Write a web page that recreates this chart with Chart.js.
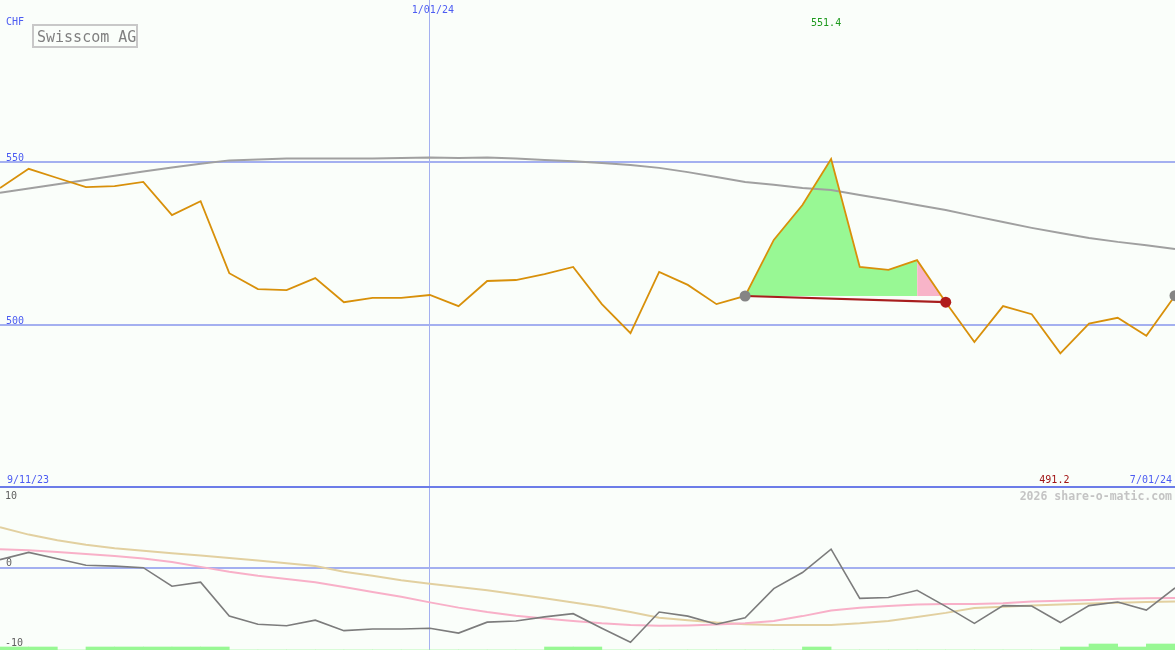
<!DOCTYPE html>
<html>
<head>
<meta charset="utf-8">
<title>Swisscom AG</title>
<script src="https://cdn.jsdelivr.net/npm/chart.js@4.4.1/dist/chart.umd.min.js"></script>
<style>
    html, body { margin: 0; padding: 0; background: #fafefa; }
    canvas { display: block; }
</style>
</head>
<body>
<canvas id="chart" width="1175" height="650"></canvas>
<script>
const dates = [
    "9/18/23", "9/25/23", "10/02/23", "10/09/23", "10/16/23", "10/23/23", "10/30/23",
    "11/06/23", "11/13/23", "11/20/23", "11/27/23", "12/04/23", "12/11/23", "12/18/23",
    "12/25/23", "1/01/24", "1/08/24", "1/15/24", "1/22/24", "1/29/24", "2/05/24",
    "2/12/24", "2/19/24", "2/26/24", "3/04/24", "3/11/24", "3/18/24", "3/25/24",
    "4/01/24", "4/08/24", "4/15/24", "4/22/24", "4/29/24", "5/06/24", "5/13/24",
    "5/20/24", "5/27/24", "6/03/24", "6/10/24", "6/17/24", "6/24/24", "7/01/24"
];

// weekly close, CHF
const price = [
    541.9, 547.8, 545.0, 542.2, 542.5, 543.8, 533.6, 537.9, 515.8, 510.9,
    510.6, 514.3, 506.9, 508.2, 508.2, 509.1, 505.7, 513.4, 513.7, 515.5,
    517.7, 506.3, 497.4, 516.2, 512.2, 506.3, 508.8, 526.0, 536.7, 550.8,
    517.7, 516.8, 519.8, 506.9, 494.7, 505.7, 503.2, 491.2, 500.3, 502.1,
    496.6, 508.9
];

// long moving average
const priceAvg = [
    540.5, 541.8, 543.1, 544.4, 545.7, 547.0, 548.2, 549.4, 550.4, 550.7,
    551.0, 551.0, 551.0, 551.0, 551.1, 551.3, 551.1, 551.3, 551.0, 550.5,
    550.1, 549.6, 549.0, 548.1, 546.8, 545.3, 543.8, 542.9, 541.9, 541.3,
    539.8, 538.3, 536.7, 535.2, 533.3, 531.5, 529.7, 528.1, 526.6, 525.4,
    524.4, 523.2
];

// lower panel
const momentum = [
    1.0, 1.9, 1.1, 0.3, 0.2, 0.0, -2.3, -1.8, -6.0, -7.0,
    -7.2, -6.5, -7.8, -7.6, -7.6, -7.5, -8.1, -6.75, -6.6, -6.1,
    -5.7, -7.5, -9.25, -5.5, -6.0, -7.0, -6.2, -2.6, -0.6, 2.3,
    -3.8, -3.7, -2.8, -4.8, -6.9, -4.7, -4.75, -6.8, -4.7, -4.25,
    -5.25, -2.5
];
const momentumFast = [
    2.3, 2.15, 1.95, 1.7, 1.45, 1.15, 0.7, 0.1, -0.5, -1.0,
    -1.4, -1.8, -2.4, -3.0, -3.6, -4.3, -4.95, -5.5, -5.95, -6.3,
    -6.6, -6.9, -7.1, -7.2, -7.15, -7.05, -6.9, -6.6, -6.0, -5.3,
    -4.95, -4.75, -4.55, -4.5, -4.5, -4.4, -4.2, -4.1, -4.0, -3.85,
    -3.8, -3.75
];
const momentumSlow = [
    5.0, 4.1, 3.4, 2.85, 2.4, 2.1, 1.8, 1.5, 1.2, 0.9,
    0.55, 0.2, -0.5, -1.0, -1.55, -2.0, -2.4, -2.8, -3.3, -3.8,
    -4.3, -4.85, -5.5, -6.2, -6.5, -6.8, -7.0, -7.1, -7.1, -7.1,
    -6.9, -6.6, -6.1, -5.6, -5.0, -4.85, -4.7, -4.55, -4.45, -4.35,
    -4.25, -4.2
];
// one bar per week interval
const signalBars = [
    1, 1, 0, 1, 1, 1, 1, 1, 0, 0,
    0, 0, 0, 0, 0, 0, 0, 0, 0, 1,
    1, 0, 0, 0, 0, 0, 0, 0, 1, 0,
    0, 0, 0, 0, 0, 0, 0, 1, 2, 1,
    2
];

const priceGrid = [500, 550];
const momentumGrid = [10, 0];
const momentumTicks = ["10", "0", "-10"];
const rangeLabels = ["9/11/23", "7/01/24"];
const highLabel = "551.4";
const lowLabel = "491.2";
const monthMark = "1/01/24";

const entryIdx = 26;
const peakIdx = 32;
const exitIdx = 33;
const markerIdx = [26, 33, 41];

const only = (arr, from, to) => arr.map((v, i) => (i >= from && i <= to ? v : null));
const flat = (v, from, to) => dates.map((d, i) => (i >= from && i <= to ? v : null));

const mono = "DejaVu Sans Mono";
const blue = "#4c5cf2";

const overlay = {
    id: "overlay",
    beforeDraw(chart) {
        const c = chart.ctx;
        c.save();
        c.fillStyle = "#fafefa";
        c.fillRect(0, 0, chart.width, chart.height);
        c.restore();
    },
    afterDraw(chart) {
        const c = chart.ctx;
        const x = chart.scales.x;
        const y = chart.scales.y;
        const y2 = chart.scales.y2;
        c.save();
        c.font = "10px '" + mono + "'";
        c.textBaseline = "alphabetic";

        c.fillStyle = blue;
        c.textAlign = "left";
        c.fillText("CHF", 6, 25);
        priceGrid.forEach(v => c.fillText(String(v), 6, y.getPixelForValue(v) - 1));
        c.fillText(rangeLabels[0], 7, 483);
        c.textAlign = "right";
        c.fillText(rangeLabels[1], 1172, 483);
        c.textAlign = "center";
        c.fillText(monthMark, x.getPixelForValue(dates.indexOf(monthMark)) + 3, 13);

        c.fillStyle = "#1e9a1e";
        c.fillText(highLabel, x.getPixelForValue(price.indexOf(Math.max(...price))) - 5, 26);
        c.fillStyle = "#a01414";
        c.fillText(lowLabel, x.getPixelForValue(price.indexOf(Math.min(...price))) - 6, 483);

        c.fillStyle = "#606060";
        c.textAlign = "left";
        c.fillText(momentumTicks[0], 5, y2.getPixelForValue(10) + 12);
        c.fillText(momentumTicks[1], 6, y2.getPixelForValue(0) - 2);
        c.fillText(momentumTicks[2], 5, chart.height - 4);

        c.font = "bold 11.5px '" + mono + "'";
        c.fillStyle = "#c4c4c4";
        c.textAlign = "right";
        c.fillText("2026 share-o-matic.com", 1172, 500);

        c.strokeStyle = "#c8c8c8";
        c.lineWidth = 2;
        c.strokeRect(33, 25, 104, 22);
        c.font = "15px '" + mono + "'";
        c.fillStyle = "#808080";
        c.textAlign = "left";
        c.fillText("Swisscom AG", 37, 42);
        c.restore();
    }
};

const ctx = document.getElementById("chart").getContext("2d");

new Chart(ctx, {
    type: "line",
    data: {
        labels: dates,
        datasets: [
            {
                label: "markers",
                data: dates.map((d, i) => (markerIdx.includes(i) ? price[i] : null)),
                showLine: false,
                pointRadius: 5.5,
                pointBorderWidth: 0,
                pointBackgroundColor: dates.map((d, i) => (i === exitIdx ? "#b01c1c" : "#858585"))
            },
            {
                label: "price",
                data: price,
                borderColor: "#d8900a",
                borderWidth: 1.8,
                pointRadius: 0
            },
            {
                label: "trade",
                data: dates.map((d, i) => (i === entryIdx || i === exitIdx ? price[i] : null)),
                spanGaps: true,
                borderColor: "#a81e1e",
                borderWidth: 2.2,
                pointRadius: 0
            },
            {
                label: "average",
                data: priceAvg,
                borderColor: "#a0a0a0",
                borderWidth: 2,
                pointRadius: 0
            },
            {
                label: "gain",
                data: only(price, entryIdx, peakIdx),
                borderWidth: 0,
                pointRadius: 0,
                fill: { target: 5, above: "#98f894", below: "#98f894" }
            },
            {
                label: "gainBase",
                data: flat(price[entryIdx], entryIdx, peakIdx),
                borderWidth: 0,
                pointRadius: 0
            },
            {
                label: "giveback",
                data: only(price, peakIdx, exitIdx),
                borderWidth: 0,
                pointRadius: 0,
                fill: { target: 7, above: "#f8b4c8", below: "rgba(0,0,0,0)" }
            },
            {
                label: "givebackBase",
                data: flat(price[entryIdx], peakIdx, exitIdx),
                borderWidth: 0,
                pointRadius: 0
            },
            {
                label: "momentum",
                data: momentum,
                yAxisID: "y2",
                borderColor: "#7c7c7c",
                borderWidth: 1.6,
                pointRadius: 0
            },
            {
                label: "fast",
                data: momentumFast,
                yAxisID: "y2",
                borderColor: "#f8b0c8",
                borderWidth: 2,
                pointRadius: 0
            },
            {
                label: "slow",
                data: momentumSlow,
                yAxisID: "y2",
                borderColor: "#e2d0a0",
                borderWidth: 2,
                pointRadius: 0
            },
            {
                type: "bar",
                label: "signal",
                data: signalBars.map((v, i) => ({ x: i + 0.5, y: v })),
                xAxisID: "xb",
                yAxisID: "yb",
                backgroundColor: "#98f894",
                borderWidth: 0,
                barPercentage: 1,
                categoryPercentage: 1,
                grouped: false
            }
        ]
    },
    options: {
        responsive: false,
        animation: false,
        devicePixelRatio: 1,
        layout: { padding: 0, autoPadding: false },
        elements: { line: { tension: 0 } },
        plugins: { legend: { display: false }, tooltip: { enabled: false } },
        scales: {
            x: {
                type: "category",
                offset: false,
                ticks: { display: false, autoSkip: false },
                border: { display: false },
                grid: {
                    drawTicks: false,
                    lineWidth: 1,
                    color: c => (dates[c.index] === monthMark ? "#a4b0f0" : "rgba(0,0,0,0)")
                },
                afterFit: s => { s.height = 0; }
            },
            xb: { type: "linear", display: false, min: 0, max: 41, offset: false },
            y: {
                position: "left",
                min: 400.2,
                max: 599.6,
                ticks: { display: false },
                border: { display: false },
                grid: { drawTicks: false, lineWidth: 2, color: "#a4b0f0" },
                afterBuildTicks: s => { s.ticks = priceGrid.map(v => ({ value: v })); },
                afterFit: s => { s.width = 0; }
            },
            y2: {
                position: "left",
                min: -10.2,
                max: 70.35,
                ticks: { display: false },
                border: { display: false },
                grid: {
                    drawTicks: false,
                    lineWidth: 2,
                    color: c => (c.tick && c.tick.value === 10 ? "#6c7ce8" : "#a4b0f0")
                },
                afterBuildTicks: s => { s.ticks = momentumGrid.map(v => ({ value: v })); },
                afterFit: s => { s.width = 0; }
            },
            yb: { display: false, min: 0, max: 216.7 }
        }
    },
    plugins: [overlay]
});
</script>
</body>
</html>
